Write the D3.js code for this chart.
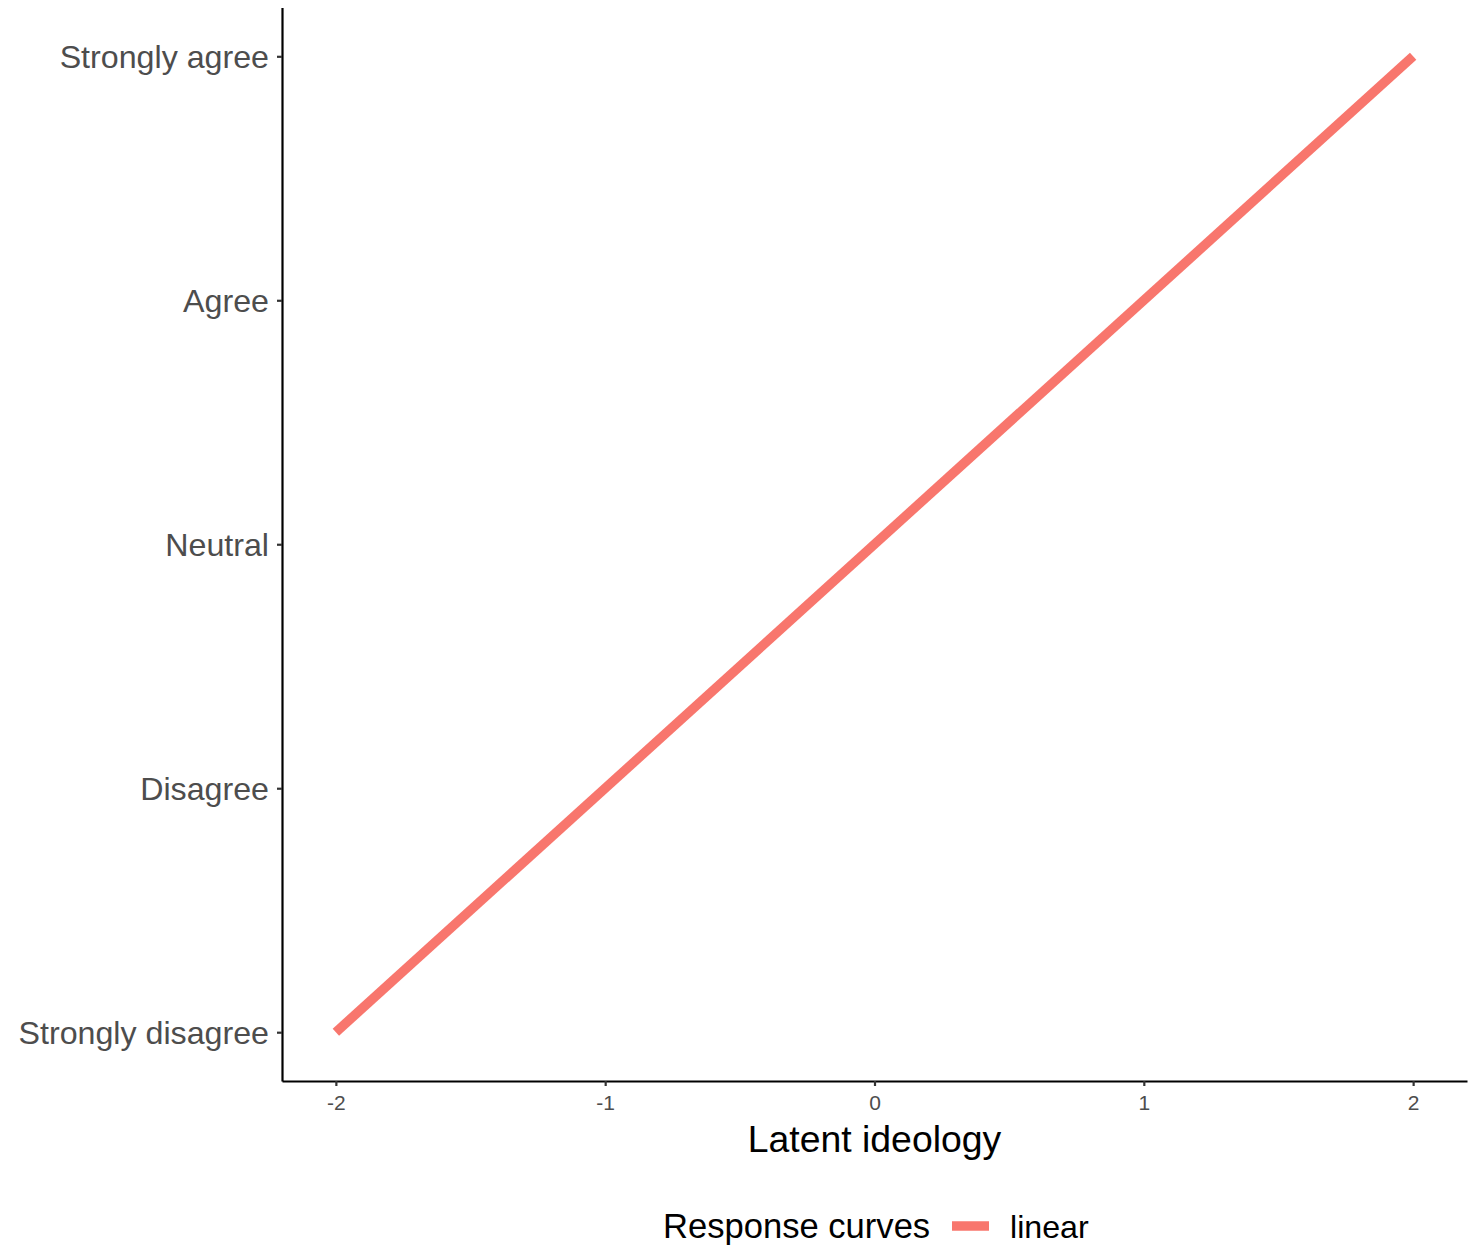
<!DOCTYPE html>
<html><head><meta charset="utf-8">
<script src="https://cdn.jsdelivr.net/npm/d3@7"></script>
<style>body{margin:0;background:#fff}svg{display:block;font-family:"Liberation Sans",Arial,sans-serif}</style>
</head><body><svg id="c" width="1475" height="1245"></svg>
<script>
const yLevels = ["Strongly disagree","Disagree","Neutral","Agree","Strongly agree"];
const xTicks = [-2,-1,0,1,2];
const seriesName = "linear";
const ideology = [-2, 2];
const response = [1, 5];
const color = "#F8766D";

const svg = d3.select("#c");
const L = 282, R = 1467, T = 7.5, B = 1081;
const x = d3.scaleLinear().domain([-2.2, 2.2]).range([L, R]);
const y = d3.scaleLinear().domain([0.8, 5.2]).range([B, T]);

const data = ideology.map((v,i)=>({x:v,y:response[i]}));
svg.append("path").datum(data)
  .attr("d", d3.line().x(d=>x(d.x)).y(d=>y(d.y)))
  .attr("fill","none").attr("stroke",color).attr("stroke-width",9.5).attr("stroke-linecap","butt");

const xa = svg.append("g").attr("transform",`translate(0,${B})`)
  .call(d3.axisBottom(x).tickValues(xTicks).tickFormat(d3.format("d")).tickSize(5).tickPadding(9).tickSizeOuter(0));
xa.select(".domain").attr("stroke","#000").attr("stroke-width",2.2);
xa.selectAll(".tick line").attr("stroke","#333").attr("stroke-width",2.2);
xa.selectAll(".tick text").attr("fill","#4D4D4D").attr("font-size",21).attr("font-family","Liberation Sans, Arial, sans-serif").text(d=>d<0?"-"+Math.abs(d):d);

const ya = svg.append("g").attr("transform",`translate(${L},0)`)
  .call(d3.axisLeft(y).tickValues([1,2,3,4,5]).tickFormat(d=>yLevels[d-1]).tickSize(5).tickPadding(8).tickSizeOuter(0));
ya.select(".domain").attr("stroke","#000").attr("stroke-width",2.2);
ya.selectAll(".tick line").attr("stroke","#333").attr("stroke-width",2.2);
ya.selectAll(".tick text").attr("fill","#4D4D4D").attr("font-size",32.2).attr("font-family","Liberation Sans, Arial, sans-serif").attr("dy","0.35em");

svg.append("text").attr("x",(L+R)/2).attr("y",1152).attr("text-anchor","middle")
  .attr("font-size",37.4).attr("fill","#000").text("Latent ideology");

const lg = svg.append("g");
lg.append("text").attr("x",663).attr("y",1238).attr("font-size",34.6).attr("fill","#000").text("Response curves");
lg.append("line").attr("x1",952).attr("x2",989).attr("y1",1226).attr("y2",1226).attr("stroke",color).attr("stroke-width",9.5);
lg.append("text").attr("x",1010).attr("y",1238).attr("font-size",32.2).attr("fill","#000").text(seriesName);
</script></body></html>
